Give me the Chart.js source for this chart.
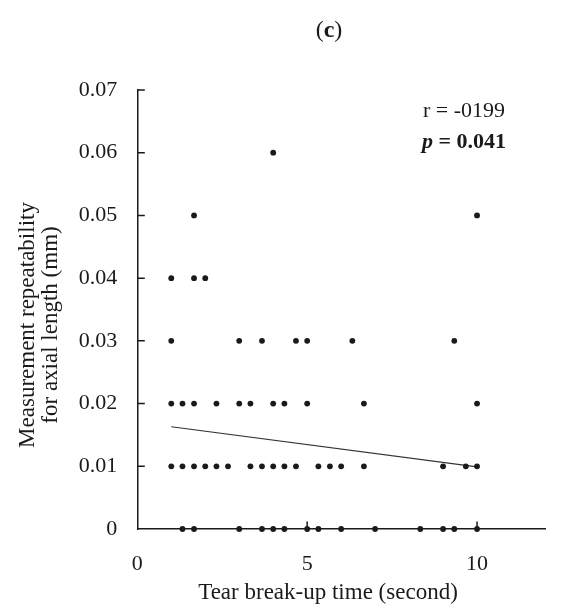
<!DOCTYPE html>
<html>
<head>
<meta charset="utf-8">
<script src="https://cdn.jsdelivr.net/npm/chart.js@4.4.1/dist/chart.umd.min.js"></script>
<style>
  html, body { margin: 0; padding: 0; background: #fff; }
  #wrap { width: 564px; height: 611px; position: relative; }
</style>
</head>
<body>
<div id="wrap"><canvas id="myChart"></canvas></div>
<script>
"use strict";

// tear break-up time (s) and measurement repeatability (mm), read row by row
const tbut = [
    4.0,
    1.67, 10.0,
    1.0, 1.67, 2.0,
    1.0, 3.0, 3.67, 4.67, 5.0, 6.33, 9.33,
    1.0, 1.33, 1.67, 2.33, 3.0, 3.33, 4.0, 4.33, 5.0, 6.67, 10.0,
    1.0, 1.33, 1.67, 2.0, 2.33, 2.67, 3.33, 3.67, 4.0, 4.33, 4.67, 5.33, 5.67, 6.0, 6.67, 9.0, 9.67, 10.0,
    1.33, 1.67, 3.0, 3.67, 4.0, 4.33, 5.0, 5.33, 6.0, 7.0, 8.33, 9.0, 9.33, 10.0
];
const repeatability = [
    0.06,
    0.05, 0.05,
    0.04, 0.04, 0.04,
    0.03, 0.03, 0.03, 0.03, 0.03, 0.03, 0.03,
    0.02, 0.02, 0.02, 0.02, 0.02, 0.02, 0.02, 0.02, 0.02, 0.02, 0.02,
    0.01, 0.01, 0.01, 0.01, 0.01, 0.01, 0.01, 0.01, 0.01, 0.01, 0.01, 0.01, 0.01, 0.01, 0.01, 0.01, 0.01, 0.01,
    0, 0, 0, 0, 0, 0, 0, 0, 0, 0, 0, 0, 0, 0
];

// linear trend line end points
const trendX = [1, 10];
const trendY = [0.0163, 0.0099];

const xTicks = [0, 5, 10];
const yTicks = [0, 0.01, 0.02, 0.03, 0.04, 0.05, 0.06, 0.07];

const serif = "'Liberation Serif', 'Times New Roman', serif";
const ink = "#1a1a1a";

let points = tbut.map((x, i) => ({ x: x, y: repeatability[i] }));
let trend = trendX.map((x, i) => ({ x: x, y: trendY[i] }));

// inward tick marks + texts (title, axis titles, r / p)
const decor = {
    id: "decor",
    afterDraw(chart) {
        const c = chart.ctx;
        const xs = chart.scales.x, ys = chart.scales.y;
        const area = chart.chartArea;
        c.save();
        c.strokeStyle = ink;
        c.lineWidth = 1.5;
        c.beginPath();
        yTicks.forEach(v => {
            if (v === 0) return;
            let py = ys.getPixelForValue(v);
            c.moveTo(area.left, py);
            c.lineTo(area.left + 7.5, py);
        });
        xTicks.forEach(v => {
            if (v === 0) return;
            let px = xs.getPixelForValue(v);
            c.moveTo(px, area.bottom);
            c.lineTo(px, area.bottom - 7.5);
        });
        c.stroke();

        c.fillStyle = ink;
        c.textBaseline = "middle";

        // (c)
        c.font = "24px " + serif;
        let w1 = c.measureText("(").width;
        c.font = "bold 24px " + serif;
        let w2 = c.measureText("c").width;
        let tx = 329 - (w1 * 2 + w2) / 2;
        c.textAlign = "left";
        c.font = "24px " + serif;
        c.fillText("(", tx, 31);
        c.font = "bold 24px " + serif;
        c.fillText("c", tx + w1, 31);
        c.font = "24px " + serif;
        c.fillText(")", tx + w1 + w2, 31);

        // x title
        c.textAlign = "center";
        c.font = "23px " + serif;
        c.fillText("Tear break-up time (second)", 328, 593);

        // y title
        c.save();
        c.translate(28, 325);
        c.rotate(-Math.PI / 2);
        c.fillText("Measurement repeatability", 0, 0);
        c.restore();
        c.save();
        c.translate(51, 325);
        c.rotate(-Math.PI / 2);
        c.fillText("for axial length (mm)", 0, 0);
        c.restore();

        // r and p
        c.textAlign = "left";
        c.textBaseline = "alphabetic";
        c.font = "22px " + serif;
        c.fillText("r = -0199", 423, 117);
        c.font = "italic bold 22px " + serif;
        c.fillText("p", 422, 148);
        let pw = c.measureText("p").width;
        c.font = "bold 22px " + serif;
        c.fillText(" = 0.041", 422 + pw, 148);
        c.restore();
    }
};

const ctx = document.getElementById("myChart");
let grafik = new Chart(ctx, {
    type: "scatter",
    data: {
        datasets: [{
            data: points,
            backgroundColor: ink,
            borderColor: ink,
            pointRadius: 2.9,
            pointBorderWidth: 0,
            clip: false
        }, {
            type: "line",
            data: trend,
            borderColor: "#333",
            borderWidth: 1.2,
            pointRadius: 0,
            fill: false
        }]
    },
    options: {
        responsive: true,
        maintainAspectRatio: false,
        animation: false,
        layout: {
            padding: { top: 90, right: 19, left: 0, bottom: 0 }
        },
        scales: {
            x: {
                type: "linear",
                min: 0,
                max: 12,
                afterFit: s => { s.height = 82 },
                afterBuildTicks: s => { s.ticks = xTicks.map(v => ({ value: v })) },
                grid: { display: true, drawOnChartArea: false, drawTicks: false },
                border: { display: true, color: ink, width: 1.5 },
                ticks: {
                    color: ink,
                    padding: 22,
                    font: { family: serif, size: 22 }
                }
            },
            y: {
                min: 0,
                max: 0.07,
                afterFit: s => { s.width = 137.3 },
                afterBuildTicks: s => { s.ticks = yTicks.map(v => ({ value: v })) },
                grid: { display: true, drawOnChartArea: false, drawTicks: false },
                border: { display: true, color: ink, width: 1.5 },
                ticks: {
                    color: ink,
                    padding: 20,
                    font: { family: serif, size: 22 },
                    callback: v => v === 0 ? "0" : v.toFixed(2)
                }
            }
        },
        plugins: {
            legend: { display: false },
            tooltip: { enabled: false }
        }
    },
    plugins: [decor]
});
</script>
</body>
</html>
